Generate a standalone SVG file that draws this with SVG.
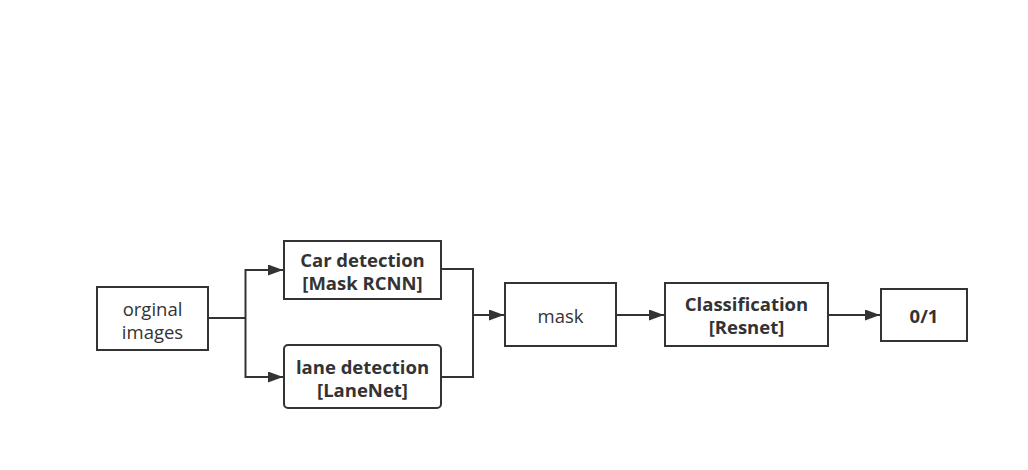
<svg xmlns="http://www.w3.org/2000/svg" width="1028" height="470" viewBox="0 0 1028 470">
<defs>
<style>
.box{fill:#fff;stroke:#333;stroke-width:2}
.t{font-family:"Open Sans","Noto Sans",sans-serif;font-size:18.5px;fill:#333;text-anchor:middle;dominant-baseline:central}
.b{font-weight:bold}
.ln{fill:none;stroke:#333;stroke-width:2}
</style>
<marker id="ah" viewBox="0 0 15 11" refX="15" refY="5.5" markerWidth="15" markerHeight="11" markerUnits="userSpaceOnUse" orient="auto">
<path d="M0,0 L15,5.5 L0,11 z" fill="#333"/>
</marker>
</defs>
<rect width="1028" height="470" fill="#fff"/>
<g id="connectors">
<path class="ln" d="M208,318 H245.5"/>
<path class="ln" d="M245.5,318 V270 H283" marker-end="url(#ah)"/>
<path class="ln" d="M245.5,318 V377 H283" marker-end="url(#ah)"/>
<path class="ln" d="M441,269 H473 V377 H441"/>
<path class="ln" d="M473,315 H504" marker-end="url(#ah)"/>
<path class="ln" d="M616,315 H664" marker-end="url(#ah)"/>
<path class="ln" d="M828,315 H880" marker-end="url(#ah)"/>
</g>
<g id="orginal">
<rect class="box" x="97" y="287" width="111" height="63"/>
<text class="t" x="152.5" y="308">orginal</text>
<text class="t" x="152.5" y="331">images</text>
</g>
<g id="car">
<rect class="box" x="284" y="241" width="157" height="58"/>
<text class="t b" x="362.5" y="259">Car detection</text>
<text class="t b" x="362.5" y="282">[Mask RCNN]</text>
</g>
<g id="lane">
<rect class="box" x="284" y="345" width="157" height="63" rx="4"/>
<text class="t b" x="362.5" y="366">lane detection</text>
<text class="t b" x="362.5" y="389">[LaneNet]</text>
</g>
<g id="mask">
<rect class="box" x="505" y="283" width="111" height="63"/>
<text class="t" x="560.5" y="315">mask</text>
</g>
<g id="classification">
<rect class="box" x="665" y="283" width="163" height="63"/>
<text class="t b" x="746.5" y="303">Classification</text>
<text class="t b" x="746.5" y="326">[Resnet]</text>
</g>
<g id="out">
<rect class="box" x="881" y="289" width="86" height="52"/>
<text class="t b" x="924" y="315">0/1</text>
</g>
</svg>
